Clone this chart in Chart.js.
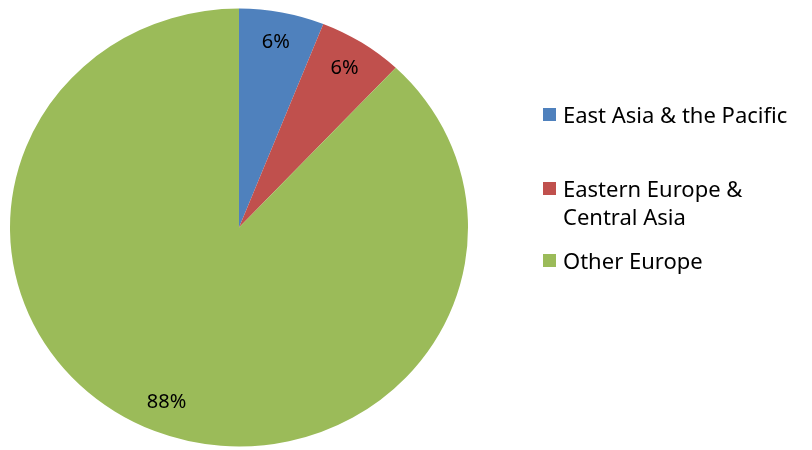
<!DOCTYPE html>
<html>
<head>
<meta charset="utf-8">
<script src="https://cdn.jsdelivr.net/npm/chart.js@4.4.1/dist/chart.umd.min.js"></script>
<style>
  html, body { margin: 0; padding: 0; background: #ffffff; }
  #wrap { position: relative; width: 812px; height: 450px; }
  #legend {
    position: absolute; left: 543px; top: 0; width: 269px;
    font-family: "Noto Sans", sans-serif; font-size: 22px; color: #000;
  }
  .item { position: absolute; left: 0; display: flex; align-items: flex-start; white-space: pre; line-height: 28px; }
  .item .box { width: 13px; height: 13px; margin: 8px 7px 0 0; flex: none; }
  .item:nth-child(1) { top: 100px; }
  .item:nth-child(2) { top: 174px; }
  .item:nth-child(3) { top: 246px; }
</style>
</head>
<body>
<div id="wrap">
  <canvas id="pie" width="812" height="450"></canvas>
  <div id="legend"></div>
</div>
<script>
// data
const categories = ['East Asia & the Pacific', 'Eastern Europe &\nCentral Asia', 'Other Europe'];
const shares = [6, 6, 88];
const colors = ['#4F81BD', '#C0504D', '#9BBB59'];

// pie in the reference is a bit wider than tall
const stretchX = 229 / 219;

const ellipse = {
    id: 'ellipse',
    beforeDatasetsDraw(chart) {
        const arc = chart.getDatasetMeta(0).data[0];
        const ctx = chart.ctx;
        ctx.save();
        ctx.translate(arc.x, arc.y);
        ctx.scale(stretchX, 1);
        ctx.translate(-arc.x, -arc.y);
    },
    afterDatasetsDraw(chart) {
        chart.ctx.restore();
    }
};

const pctLabels = {
    id: 'pctLabels',
    afterDraw(chart) {
        const ctx = chart.ctx;
        ctx.save();
        ctx.font = '20px "Noto Sans", sans-serif';
        ctx.fillStyle = '#000';
        ctx.textAlign = 'center';
        ctx.textBaseline = 'middle';
        chart.getDatasetMeta(0).data.forEach((arc, i) => {
            const mid = (arc.startAngle + arc.endAngle) / 2;
            const r = arc.outerRadius * 0.86;
            const x = arc.x + Math.cos(mid) * r * stretchX;
            const y = arc.y + Math.sin(mid) * r;
            ctx.fillText(shares[i] + '%', x, y);
        });
        ctx.restore();
    }
};

const htmlLegend = {
    id: 'htmlLegend',
    afterUpdate(chart) {
        const box = document.getElementById('legend');
        box.innerHTML = '';
        chart.data.labels.forEach((label, i) => {
            const item = document.createElement('div');
            item.className = 'item';
            const sw = document.createElement('span');
            sw.className = 'box';
            sw.style.background = chart.data.datasets[0].backgroundColor[i];
            const txt = document.createElement('span');
            txt.textContent = label;
            item.appendChild(sw);
            item.appendChild(txt);
            box.appendChild(item);
        });
    }
};

new Chart(document.getElementById('pie'), {
    type: 'pie',
    data: {
        labels: categories,
        datasets: [{
            data: shares,
            backgroundColor: colors,
            borderWidth: 0
        }]
    },
    options: {
        responsive: false,
        animation: false,
        layout: {
            padding: { left: 20, top: 8.5, bottom: 3.5, right: 354 }
        },
        plugins: {
            legend: { display: false },
            tooltip: { enabled: false }
        }
    },
    plugins: [ellipse, pctLabels, htmlLegend]
});
</script>
</body>
</html>
